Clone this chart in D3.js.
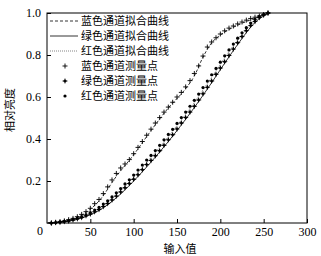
<!DOCTYPE html>
<html>
<head>
<meta charset="utf-8">
<script src="https://cdn.jsdelivr.net/npm/d3@7"></script>
<style>
  body { margin: 0; background: #fff; }
  svg text { font-family: "Liberation Serif", "Noto Sans CJK SC", serif; }
</style>
</head>
<body>
<div id="chart"></div>
<script>
// 输入值 (measured)
const inputs = [5, 10, 15, 20, 25, 30, 35, 40, 45, 50, 55, 60, 65, 70, 75, 80, 85, 90, 95, 100,
  105, 110, 115, 120, 125, 130, 135, 140, 145, 150, 155, 160, 165, 170, 175, 180, 185, 190, 195, 200,
  205, 210, 215, 220, 225, 230, 235, 240, 245, 250, 255];

const blueMeas = [0.000, 0.003, 0.006, 0.010, 0.016, 0.022, 0.030, 0.041, 0.054, 0.070, 0.092, 0.112, 0.140, 0.172, 0.205, 0.236, 0.262, 0.281, 0.302, 0.330,
  0.360, 0.388, 0.418, 0.447, 0.476, 0.502, 0.528, 0.552, 0.575, 0.600, 0.622, 0.648, 0.678, 0.712, 0.748, 0.795, 0.838, 0.862, 0.882, 0.900,
  0.915, 0.928, 0.938, 0.948, 0.957, 0.966, 0.974, 0.980, 0.986, 0.992, 1.000];

const greenMeas = [0.000, 0.002, 0.004, 0.007, 0.010, 0.014, 0.020, 0.026, 0.034, 0.043, 0.053, 0.064, 0.078, 0.093, 0.110, 0.128, 0.148, 0.168, 0.188, 0.208,
  0.230, 0.254, 0.278, 0.298, 0.320, 0.344, 0.370, 0.396, 0.420, 0.448, 0.476, 0.502, 0.528, 0.556, 0.586, 0.615, 0.646, 0.676, 0.708, 0.738,
  0.768, 0.798, 0.828, 0.858, 0.888, 0.916, 0.940, 0.960, 0.978, 0.990, 1.000];

const redMeas = [0.000, 0.002, 0.005, 0.008, 0.012, 0.017, 0.023, 0.030, 0.039, 0.050, 0.062, 0.074, 0.090, 0.106, 0.124, 0.144, 0.164, 0.186, 0.206, 0.228,
  0.252, 0.276, 0.300, 0.322, 0.345, 0.370, 0.396, 0.422, 0.446, 0.474, 0.502, 0.528, 0.556, 0.584, 0.614, 0.645, 0.676, 0.706, 0.736, 0.766,
  0.796, 0.824, 0.852, 0.880, 0.906, 0.930, 0.952, 0.970, 0.984, 0.994, 1.000];

// 拟合曲线
const fitX = [0, 20, 40, 60, 80, 100, 120, 140, 160, 170, 180, 190, 200, 220, 240, 256];
const blueFit = [0.000, 0.008, 0.038, 0.105, 0.222, 0.325, 0.440, 0.548, 0.640, 0.700, 0.790, 0.858, 0.895, 0.942, 0.975, 1.000];
const greenFit = [0.000, 0.006, 0.024, 0.060, 0.120, 0.200, 0.290, 0.388, 0.494, 0.550, 0.608, 0.668, 0.730, 0.850, 0.955, 1.000];
const redFit = [0.000, 0.007, 0.028, 0.068, 0.134, 0.218, 0.312, 0.412, 0.518, 0.574, 0.634, 0.694, 0.756, 0.872, 0.962, 1.000];

const xTicks = [50, 100, 150, 200, 250, 300];
const yTicks = [0.2, 0.4, 0.6, 0.8, 1.0];
const legendLabels = ['蓝色通道拟合曲线', '绿色通道拟合曲线', '红色通道拟合曲线', '蓝色通道测量点', '绿色通道测量点', '红色通道测量点'];

const width = 321, height = 256;
const svg = d3.select('#chart')
  .append('svg')
  .attr('width', width)
  .attr('height', height);

const x = d3.scaleLinear().domain([0, 300]).range([47, 307]);
const y = d3.scaleLinear().domain([0, 1]).range([223, 13]);

// frame
svg.append('rect')
  .attr('x', x(0)).attr('y', y(1))
  .attr('width', x(300) - x(0)).attr('height', y(0) - y(1))
  .attr('fill', 'none').attr('stroke', '#000').attr('stroke-width', 1);

const xAxis = svg.append('g')
  .attr('transform', `translate(0,${y(0)})`)
  .call(d3.axisBottom(x).tickValues(xTicks).tickSizeInner(-4).tickSizeOuter(0).tickPadding(4));
const yAxis = svg.append('g')
  .attr('transform', `translate(${x(0)},0)`)
  .call(d3.axisLeft(y).tickValues(yTicks).tickFormat(d3.format('.1f')).tickSizeInner(-4).tickSizeOuter(0).tickPadding(6));

[xAxis, yAxis].forEach(g => {
  g.select('.domain').remove();
  g.selectAll('.tick line').attr('stroke', '#000');
  g.selectAll('.tick text')
    .style('font-family', '"Liberation Serif", serif')
    .style('font-size', '12px')
    .attr('fill', '#000');
});

svg.append('text')
  .attr('x', 40).attr('y', 235)
  .attr('text-anchor', 'middle')
  .style('font-size', '12px')
  .text('0');

svg.append('text')
  .attr('x', 180).attr('y', 253)
  .attr('text-anchor', 'middle')
  .style('font-family', '"Noto Sans CJK SC"')
  .style('font-size', '11px')
  .text('输入值');

svg.append('text')
  .attr('transform', 'translate(14,110) rotate(-90)')
  .attr('text-anchor', 'middle')
  .style('font-family', '"Noto Sans CJK SC"')
  .style('font-size', '11px')
  .text('相对亮度');

// fit lines
const line = d3.line()
  .x(d => x(d[0]))
  .y(d => y(d[1]))
  .curve(d3.curveMonotoneX);

const fits = [
  { v: blueFit, dash: '3,2', color: '#000', w: 0.8 },
  { v: greenFit, dash: null, color: '#000', w: 0.8 },
  { v: redFit, dash: '1,1', color: '#666', w: 0.8 }
];

fits.forEach(f => {
  svg.append('path')
    .datum(fitX.map((v, i) => [v, f.v[i]]))
    .attr('fill', 'none')
    .attr('stroke', f.color)
    .attr('stroke-width', f.w)
    .attr('stroke-dasharray', f.dash)
    .attr('d', line);
});

// markers
function plus(g, cx, cy) {
  g.append('path')
    .attr('d', `M${cx - 2.5},${cy}H${cx + 2.5}M${cx},${cy - 2.5}V${cy + 2.5}`)
    .attr('stroke', '#000').attr('stroke-width', 0.9);
}
function diamond(g, cx, cy) {
  g.append('path')
    .attr('d', `M${cx},${cy - 3}L${cx + 1.2},${cy}L${cx},${cy + 3}L${cx - 1.2},${cy}Z M${cx - 3},${cy}L${cx},${cy - 1.2}L${cx + 3},${cy}L${cx},${cy + 1.2}Z`)
    .attr('fill', '#000');
}
function dot(g, cx, cy) {
  g.append('circle')
    .attr('cx', cx).attr('cy', cy).attr('r', 1.6)
    .attr('fill', '#000');
}

const pts = svg.append('g');
inputs.forEach((v, i) => {
  plus(pts, x(v), y(blueMeas[i]));
  diamond(pts, x(v), y(greenMeas[i]));
  dot(pts, x(v), y(redMeas[i]));
});

// legend
const leg = svg.append('g');
legendLabels.forEach((t, i) => {
  const ly = 21 + i * 15;
  if (i < 3) {
    leg.append('line')
      .attr('x1', 50).attr('x2', 78)
      .attr('y1', ly).attr('y2', ly)
      .attr('stroke', fits[i].color)
      .attr('stroke-width', 0.8)
      .attr('stroke-dasharray', fits[i].dash);
  } else if (i === 3) {
    plus(leg, 65, ly);
  } else if (i === 4) {
    diamond(leg, 65, ly);
  } else {
    dot(leg, 65, ly);
  }
  leg.append('text')
    .attr('x', 81).attr('y', ly + 4)
    .style('font-family', '"Noto Sans CJK SC"')
    .style('font-size', '11px')
    .text(t);
});
</script>
</body>
</html>
